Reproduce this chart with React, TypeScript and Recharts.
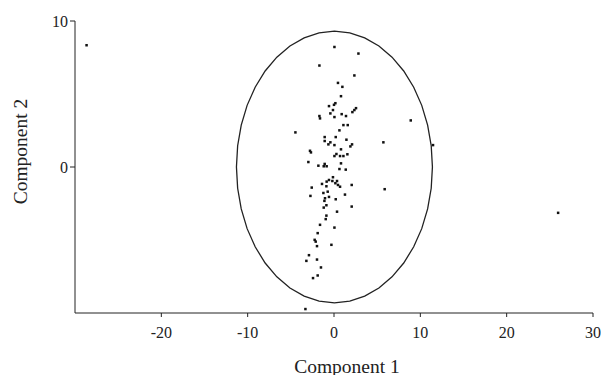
import React from 'react';
import { ScatterChart, Scatter, XAxis, YAxis, Label } from 'recharts';

const comp1: number[] = [
  -28.66, 25.96, -3.31, 0.05, 2.83, -1.69, 2.36, 0.46, 0.97, 0.81,
  0.16, 0.0, -0.58, 2.55, 2.36, 2.13, -0.12, -0.42, 0.89, 1.39,
  -1.69, -1.62, 0.05, 1.09, 1.59, 0.63, -4.47, -1.08, 0.2, 1.44,
  -1.08, -0.42, -0.65, 0.05, 2.09, 1.9, 5.72, -2.78, -2.67, 0.81,
  0.28, 0.05, 0.7, 1.09, 1.55, -2.97, 0.81, -1.81, -1.08, -1.19,
  -0.85, 0.63, 1.36, -0.12, -0.58, -0.85, -0.19, 0.35, 0.16, 0.46,
  0.7, -1.39, -0.88, -2.58, 2.05, 5.87, -0.73, -1.23, -2.73, 1.27,
  -0.58, -1.04, -1.11, 0.2, -0.88, -1.19, 2.05, 0.35, -0.88, -0.96,
  -1.62, 0.05, -1.89, -2.24, -2.12, -1.97, -0.3, -2.9, -3.2, -1.97,
  -1.51, -1.89, -2.43, 8.89, 11.47,
];
const comp2: number[] = [
  8.34, -3.14, -9.73, 8.22, 7.77, 6.95, 6.27, 5.76, 5.49, 4.85,
  4.37, 4.26, 4.17, 4.03, 3.9, 3.76, 3.9, 3.67, 3.62, 3.49,
  3.49, 3.33, 3.42, 2.87, 2.87, 2.51, 2.37, 2.05, 2.05, 1.87,
  1.78, 1.69, 1.55, 1.5, 1.55, 1.41, 1.69, 1.11, 1.0, 1.21,
  0.89, 0.75, 0.75, 0.75, 0.87, 0.34, 0.25, 0.09, 0.21, 0.05,
  0.05, -0.14, -0.18, -0.7, -0.89, -1.0, -0.96, -0.96, -1.11, -1.23,
  -1.35, -1.16, -1.32, -1.41, -1.23, -1.52, -1.69, -1.78, -1.98, -1.89,
  -2.05, -2.14, -2.32, -2.21, -2.62, -2.78, -2.71, -3.06, -3.33, -3.57,
  -3.96, -4.15, -4.53, -4.99, -5.11, -5.42, -5.33, -6.04, -6.43, -6.34,
  -6.88, -7.43, -7.61, 3.19, 1.5,
];

const xTicks = [-20, -10, 0, 10, 20, 30];
const yTicks = [0, 10];
const xTitle = 'Component 1';
const yTitle = 'Component 2';

// confidence ellipse: center and semi-axes
const ellipseCenter = [0.05, 0.0];
const ellipseRadii = [11.35, 9.3];
const ellipseSegments = 40;

const points = comp1.map((x, i) => ({ x, y: comp2[i] }));
const ellipse = Array.from({ length: ellipseSegments + 1 }, (_, i) => {
  const t = (i / ellipseSegments) * 2 * Math.PI;
  return {
    x: ellipseCenter[0] + ellipseRadii[0] * Math.cos(t),
    y: ellipseCenter[1] + ellipseRadii[1] * Math.sin(t),
  };
});

const font = "'Liberation Serif', 'Times New Roman', serif";

const Dot = (props: any) => {
  const { cx, cy } = props;
  if (cx == null || cy == null) return <g />;
  return <rect x={cx - 1.25} y={cy - 1.25} width={2.5} height={2.5} fill="#111" />;
};

const NoShape = () => <g />;

const XTitle = () => (
  <text x={347} y={372.5} textAnchor="middle" fill="#222" fontSize={19.5} fontFamily={font}>
    {xTitle}
  </text>
);

const YTitle = () => (
  <text
    transform="translate(27,151.5) rotate(-90)"
    x={0}
    y={0}
    textAnchor="middle"
    fill="#222"
    fontSize={19.5}
    fontFamily={font}
  >
    {yTitle}
  </text>
);

export default function App() {
  return (
    <div style={{ position: 'absolute', left: 0, top: 0, background: '#fff' }}>
      <ScatterChart
        width={601}
        height={375}
        margin={{ top: 21, right: 8, left: 0, bottom: 0 }}
      >
        <XAxis
          type="number"
          dataKey="x"
          domain={[-30, 30]}
          ticks={xTicks}
          allowDataOverflow
          height={62}
          tickSize={4}
          tickMargin={10}
          stroke="#222"
          tick={{ fill: '#222', fontSize: 16, fontFamily: font }}
        >
          <Label content={<XTitle />} />
        </XAxis>
        <YAxis
          type="number"
          dataKey="y"
          domain={[-10, 10]}
          ticks={yTicks}
          allowDataOverflow
          width={75}
          tickSize={5}
          tickMargin={2}
          stroke="#222"
          tick={{ fill: '#222', fontSize: 16, fontFamily: font }}
        >
          <Label content={<YTitle />} />
        </YAxis>
        <Scatter
          data={ellipse}
          line={{ stroke: '#222', strokeWidth: 1.3 }}
          shape={NoShape}
          isAnimationActive={false}
        />
        <Scatter data={points} shape={Dot} isAnimationActive={false} />
      </ScatterChart>
    </div>
  );
}
